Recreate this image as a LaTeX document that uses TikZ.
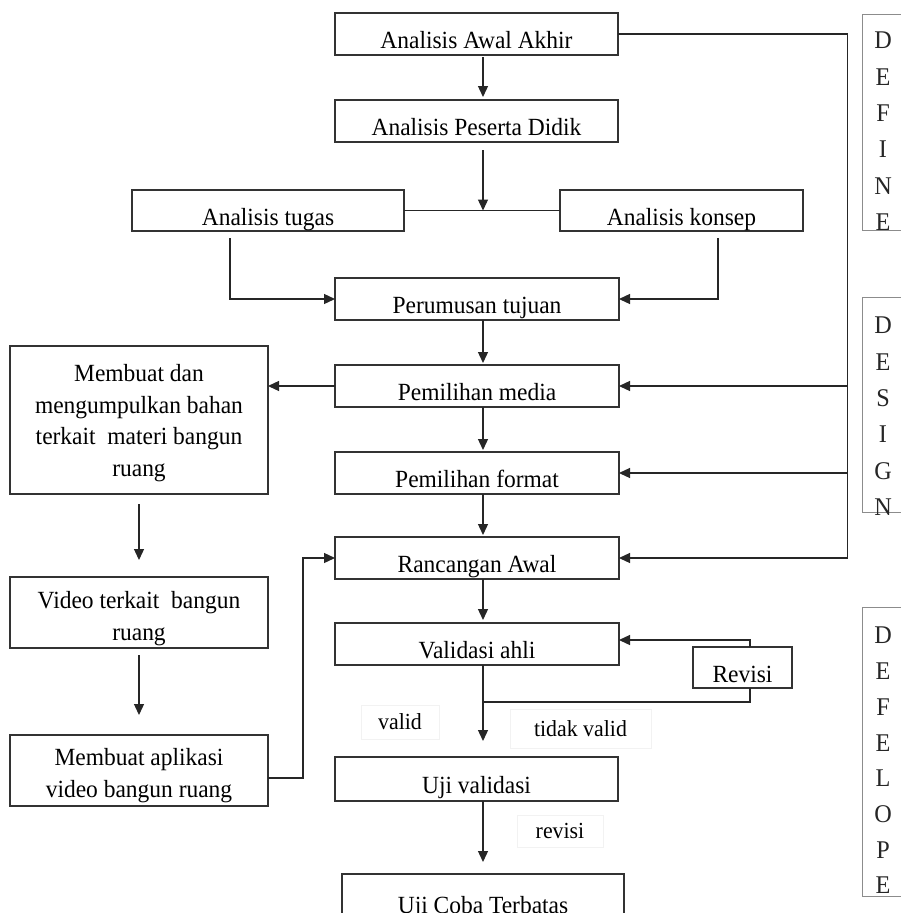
\documentclass[tikz,border=0pt]{standalone}
\usepackage{fontspec}
\setmainfont{Liberation Serif}
\newfontfamily\tallfont[FakeStretch=0.95]{Liberation Serif}
\usetikzlibrary{arrows.meta}
\begin{document}
\begin{tikzpicture}[x=1pt,y=-1pt,
  box/.style={draw=black!80, line width=1.4pt, inner sep=0pt, outer sep=0pt, align=center,
    font=\tallfont\fontsize{24.7}{31.5}\selectfont},
  onebox/.style={box, text height=29pt, text depth=0pt},
  lblbox/.style={draw=black!45, line width=1pt, inner sep=0pt, outer sep=0pt, minimum width=42pt},
  lbltext/.style={inner sep=0pt, align=center, anchor=north, text=black!85,
    font=\tallfont\fontsize{25.5}{36.3}\selectfont},
  tag/.style={draw=black!5, line width=0.8pt, inner sep=0pt, font=\tallfont\fontsize{23}{26}\selectfont},
  ln/.style={draw=black!85, line width=1.3pt},
  arr/.style={ln, -{Triangle[length=11pt,width=10pt]}}]
\useasboundingbox (0,0) rectangle (901,913);
\fill[white] (0,0) rectangle (901,913);

% main column
\node[onebox, minimum width=283pt, minimum height=42pt] (aaa) at (476.5,34) {Analisis Awal Akhir};
\node[onebox, minimum width=283pt, minimum height=42pt] (apd) at (476.5,121) {Analisis Peserta Didik};
\node[onebox, minimum width=272pt, minimum height=41pt] (at) at (268,210.5) {Analisis tugas};
\node[onebox, minimum width=243pt, minimum height=41pt] (ak) at (681.5,210.5) {Analisis konsep};
\node[onebox, minimum width=284pt, minimum height=42pt] (pt) at (477,299) {Perumusan tujuan};
\node[onebox, minimum width=284pt, minimum height=42pt] (pm) at (477,386) {Pemilihan media};
\node[onebox, minimum width=284pt, minimum height=42pt] (pf) at (477,473) {Pemilihan format};
\node[onebox, minimum width=284pt, minimum height=42pt] (ra) at (477,558) {Rancangan Awal};
\node[onebox, minimum width=284pt, minimum height=42pt] (va) at (477,644) {Validasi ahli};
\node[onebox, minimum width=99pt, minimum height=41pt] (rv) at (742.5,667.5) {Revisi};
\node[onebox, minimum width=283pt, minimum height=44pt] (uv) at (476.5,779) {Uji validasi};
\node[onebox, minimum width=282pt, minimum height=50pt] (uc) at (483,899) {Uji Coba Terbatas};

% left column
\node[box, minimum width=258pt, minimum height=148pt] (mb) at (139,420)
  {\rule{0pt}{23pt}Membuat dan\\mengumpulkan bahan\\terkait\ \ materi bangun\\ruang};
\node[box, minimum width=258pt, minimum height=71pt] (vt) at (139,612.5)
  {\rule{0pt}{29pt}Video terkait\ \ bangun\\ruang};
\node[box, minimum width=258pt, minimum height=71pt] (ma) at (139,770.5)
  {\rule{0pt}{27pt}Membuat aplikasi\\video bangun ruang};

% stage labels
\node[lblbox, minimum height=216pt] (bdef) at (883,122) {};
\node[lbltext] (tdef) at (883,32) {D\\E\\F\\I\\N\\E};
\node[lblbox, minimum height=215pt] (bdes) at (883,404.5) {};
\node[lbltext] (tdes) at (883,317) {D\\E\\S\\I\\G\\N};
\node[lblbox, minimum height=289pt] (bdev) at (883,751.5) {};
\node[lbltext, font=\tallfont\fontsize{25.5}{35.7}\selectfont] (tdev) at (883,627) {D\\E\\F\\E\\L\\O\\P\\E};

% edge labels
\node[tag, minimum width=78pt, minimum height=34pt] (lv) at (400,722) {valid};
\node[tag, minimum width=141pt, minimum height=39pt] (ltv) at (580.5,728.5) {tidak valid};
\node[tag, minimum width=86pt, minimum height=32pt] (lr) at (560,831) {revisi};

% helper coordinates
\coordinate (cx) at (483,0);
\coordinate (rx) at (847.5,0);
\coordinate (lx) at (303,0);
\coordinate (vj) at (483,702);

% connectors
\draw[arr, shorten <=2pt, shorten >=3pt] (aaa.south -| cx) -- (apd.north -| cx);
\draw[arr, shorten <=8pt] (apd.south -| cx) -- (at.east -| cx);
\draw[ln] (at.east) -- (ak.west);
\draw[arr, shorten <=7pt] ([xshift=-38pt]at.south) |- (pt.west);
\draw[arr, shorten <=7pt] ([xshift=36.5pt]ak.south) |- (pt.east);
\draw[arr, shorten >=2pt] (pt.south -| cx) -- (pm.north -| cx);
\draw[arr, shorten >=2pt] (pm.south -| cx) -- (pf.north -| cx);
\draw[arr, shorten >=2pt] (pf.south -| cx) -- (ra.north -| cx);
\draw[arr, shorten >=3pt] (ra.south -| cx) -- (va.north -| cx);
\draw[arr] (pm.west) -- (pm.west -| mb.east);
\draw[arr] (aaa.east) -| (rx |- ra.east) -- (ra.east);
\draw[arr] (rx |- pm.east) -- (pm.east);
\draw[arr] (rx |- pf.east) -- (pf.east);
\draw[arr] ([xshift=7.5pt]rv.north) |- ([yshift=4pt]va.east);
\draw[ln] ([xshift=7.5pt]rv.south) |- (vj);
\draw[arr, shorten >=16pt] (va.south -| cx) -- (uv.north -| cx);
\draw[arr, shorten >=12pt] (uv.south -| cx) -- (uc.north -| cx);
\draw[arr, shorten <=10pt, shorten >=17pt] (mb.south) -- (vt.north);
\draw[arr, shorten <=7pt, shorten >=20pt] (vt.south) -- (ma.north);
\draw[arr] ([yshift=-7.5pt]ma.east) -| (lx |- ra.west) -- (ra.west);
\end{tikzpicture}
\end{document}
